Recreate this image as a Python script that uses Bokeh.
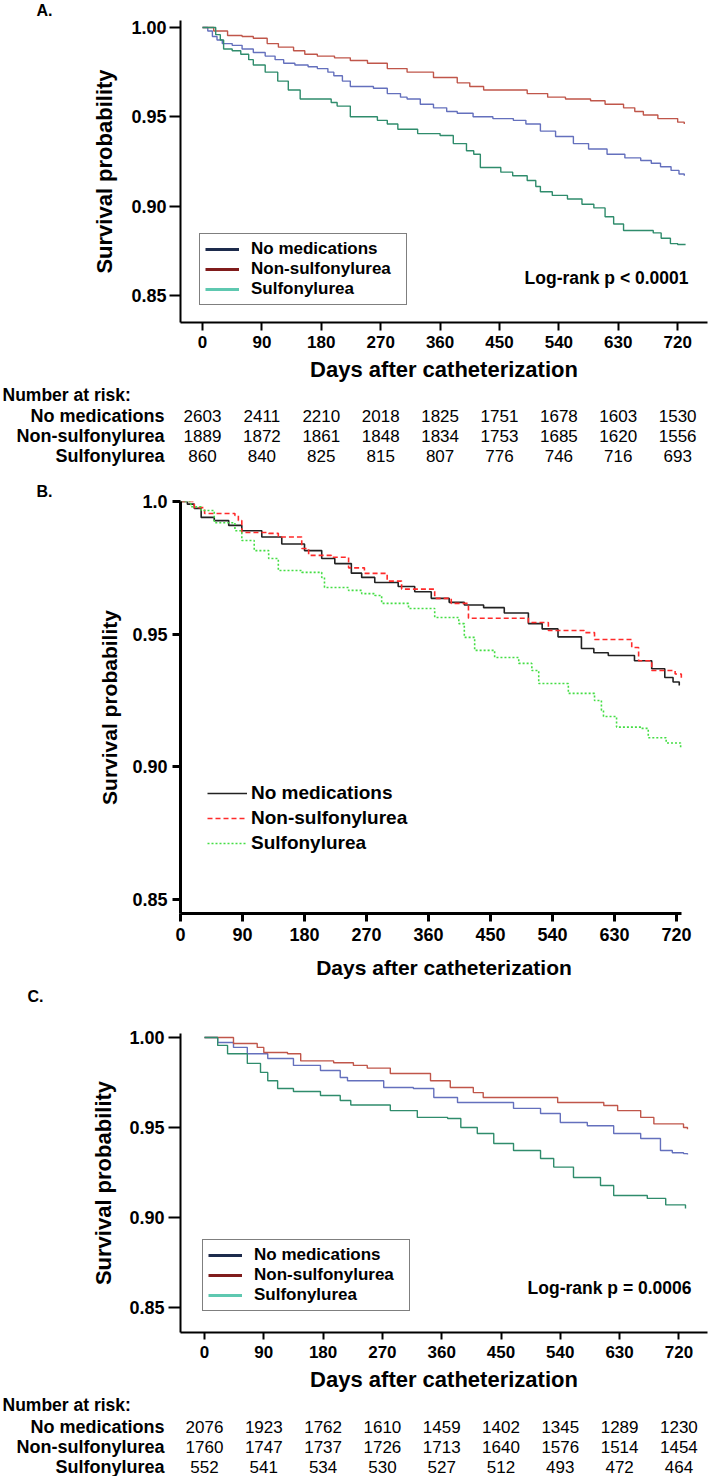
from bokeh.plotting import figure
from bokeh.layouts import column
from bokeh.models import Range1d, FactorRange, FixedTicker, Label, Legend, LegendItem, Title
from bokeh.core.properties import value
from bokeh.embed import file_html
from bokeh.resources import INLINE

FONT = "Liberation Sans"
TICK_DAYS = [0, 90, 180, 270, 360, 450, 540, 630, 720]
GROUPS = ["No medications", "Non-sulfonylurea", "Sulfonylurea"]

# ---------------- Panel A ----------------
a_nomed_days = [0, 8, 15, 22, 30, 45, 60, 77, 95, 110, 123, 140, 160, 174, 190, 199, 212, 224, 240, 259, 280, 300, 310,
                330, 350, 370, 386, 410, 440, 471, 490, 512, 535, 562, 585, 613, 640, 664, 680, 694, 710, 722, 730]
a_nomed_surv = [1.000, 0.998, 0.995, 0.993, 0.991, 0.990, 0.988, 0.986, 0.984, 0.982, 0.980, 0.979, 0.978, 0.977,
                0.975, 0.973, 0.970, 0.967, 0.967, 0.966, 0.963, 0.961, 0.960, 0.957, 0.955, 0.953, 0.952, 0.950,
                0.949, 0.948, 0.946, 0.942, 0.939, 0.935, 0.932, 0.929, 0.927, 0.9255, 0.924, 0.922, 0.920, 0.918, 0.917]
a_nonsulf_days = [0, 17, 38, 60, 77, 98, 115, 138, 155, 174, 200, 224, 250, 280, 310, 350, 386, 405, 426, 460, 492,
                  523, 550, 588, 610, 638, 655, 668, 690, 705, 720, 730]
a_nonsulf_surv = [1.000, 0.998, 0.9955, 0.995, 0.994, 0.991, 0.989, 0.987, 0.985, 0.984, 0.983, 0.9815, 0.980, 0.977,
                  0.975, 0.972, 0.969, 0.967, 0.965, 0.965, 0.963, 0.961, 0.960, 0.959, 0.957, 0.955, 0.953, 0.951,
                  0.949, 0.949, 0.947, 0.946]
a_sulf_days = [0, 20, 27, 32, 45, 58, 70, 77, 95, 114, 130, 148, 179, 195, 204, 224, 265, 280, 296, 326, 360, 380,
               400, 411, 421, 452, 470, 492, 505, 512, 530, 553, 575, 593, 610, 623, 638, 683, 695, 709, 720, 732]
a_sulf_surv = [1.000, 0.996, 0.993, 0.988, 0.987, 0.985, 0.982, 0.979, 0.975, 0.970, 0.965, 0.960, 0.960, 0.958,
               0.956, 0.950, 0.948, 0.946, 0.943, 0.9406, 0.9395, 0.935, 0.931, 0.929, 0.9216, 0.919, 0.917, 0.9143,
               0.911, 0.908, 0.906, 0.904, 0.901, 0.899, 0.894, 0.890, 0.8863, 0.885, 0.882, 0.879, 0.8785, 0.8785]
a_risk_nomed = [2603, 2411, 2210, 2018, 1825, 1751, 1678, 1603, 1530]
a_risk_nonsulf = [1889, 1872, 1861, 1848, 1834, 1753, 1685, 1620, 1556]
a_risk_sulf = [860, 840, 825, 815, 807, 776, 746, 716, 693]

# ---------------- Panel B ----------------
b_nomed_days = [0, 10, 20, 30, 49, 70, 89, 118, 147, 180, 205, 224, 248, 263, 282, 316, 340, 364, 390, 412, 440, 470,
                505, 525, 548, 582, 600, 621, 659, 684, 703, 715, 724]
b_nomed_surv = [1.000, 0.999, 0.9974, 0.994, 0.9928, 0.991, 0.989, 0.9866, 0.984, 0.9815, 0.9785, 0.9766, 0.973,
                0.9714, 0.9695, 0.968, 0.966, 0.9635, 0.962, 0.961, 0.960, 0.958, 0.954, 0.952, 0.949, 0.9446, 0.943,
                0.942, 0.940, 0.937, 0.9337, 0.932, 0.9307]
b_nonsulf_days = [0, 20, 35, 79, 84, 89, 128, 142, 176, 186, 219, 244, 267, 300, 321, 369, 393, 418, 476, 505, 534,
                  586, 601, 655, 665, 684, 718, 727]
b_nonsulf_surv = [1.000, 0.9977, 0.9955, 0.9947, 0.9928, 0.9883, 0.988, 0.9866, 0.9823, 0.9797, 0.979, 0.975, 0.9729,
                  0.970, 0.967, 0.9635, 0.9616, 0.956, 0.956, 0.9544, 0.9514, 0.9506, 0.948, 0.945, 0.940, 0.9363,
                  0.935, 0.9325]
b_sulf_days = [0, 15, 30, 49, 79, 89, 107, 128, 142, 176, 205, 209, 244, 263, 282, 292, 331, 369, 404, 412, 427, 456,
               491, 510, 520, 563, 601, 611, 614, 633, 669, 679, 705, 726]
b_sulf_surv = [1.000, 0.998, 0.9966, 0.992, 0.989, 0.9853, 0.9815, 0.9785, 0.974, 0.9733, 0.9714, 0.9676, 0.9665,
               0.9653, 0.9646, 0.9616, 0.9597, 0.9563, 0.954, 0.9488, 0.9439, 0.9412, 0.939, 0.9363, 0.9314, 0.9277,
               0.925, 0.9213, 0.919, 0.915, 0.9145, 0.911, 0.909, 0.9073]

# ---------------- Panel C ----------------
c_nomed_days = [0, 20, 44, 65, 96, 135, 176, 206, 217, 237, 272, 317, 348, 384, 444, 469, 510, 540, 581, 621, 662,
                692, 710, 727, 733]
c_nomed_surv = [1.000, 0.9972, 0.9945, 0.991, 0.9883, 0.9845, 0.9817, 0.9778, 0.976, 0.976, 0.9722, 0.9717, 0.9667,
                0.9639, 0.9639, 0.9606, 0.9578, 0.9528, 0.951, 0.9467, 0.9439, 0.9372, 0.936, 0.9355, 0.935]
c_nonsulf_days = [0, 44, 80, 90, 126, 146, 196, 226, 247, 282, 343, 373, 408, 423, 490, 536, 606, 627, 662, 682, 727,
                  733]
c_nonsulf_surv = [1.000, 0.9967, 0.9945, 0.9917, 0.991, 0.987, 0.986, 0.9845, 0.983, 0.980, 0.976, 0.9722, 0.9694,
                  0.9667, 0.9667, 0.9639, 0.9622, 0.9594, 0.9556, 0.952, 0.950, 0.949]
c_sulf_days = [0, 20, 35, 65, 85, 96, 111, 135, 176, 206, 222, 282, 323, 369, 389, 414, 439, 469, 510, 530, 560, 601,
               621, 672, 700, 730]
c_sulf_surv = [1.000, 0.9956, 0.991, 0.9856, 0.9806, 0.976, 0.9717, 0.970, 0.9678, 0.965, 0.9625, 0.9594, 0.9556,
               0.955, 0.950, 0.9467, 0.9411, 0.9372, 0.9328, 0.928, 0.9222, 0.9178, 0.9122, 0.9106, 0.907, 0.905]
c_risk_nomed = [2076, 1923, 1762, 1610, 1459, 1402, 1345, 1289, 1230]
c_risk_nonsulf = [1760, 1747, 1737, 1726, 1713, 1640, 1576, 1514, 1454]
c_risk_sulf = [552, 541, 534, 530, 527, 512, 493, 472, 464]

Y_TICKS = [0.85, 0.90, 0.95, 1.00]
A_OV = {0.85: "0.85", 0.90: "0.90", 0.95: "0.95", 1.00: "1.00"}
B_OV = {0.85: "0.85", 0.90: "0.90", 0.95: "0.95", 1.00: "1.0"}

CURVE_COLORS = ["#6470bd", "#c0564a", "#2f8c6c"]
LEGEND_COLORS = ["#1d2b4c", "#801c1c", "#5ec8b0"]
B_COLORS = ["#222222", "#ff2a2a", "#44dd44"]
B_DASHES = ["solid", "5 3", "2 2"]

W = 708
LEFT = 180
RIGHT = 1


def base_fig(h, xr, yr, top, bottom, **kw):
    p = figure(width=W, height=h, x_range=xr, y_range=yr,
               output_backend="svg", toolbar_location=None,
               min_border_left=LEFT, min_border_right=RIGHT,
               min_border_top=top, min_border_bottom=bottom, **kw)
    p.grid.visible = False
    p.outline_line_color = None
    p.background_fill_color = "white"
    p.border_fill_color = "white"
    return p


def style_axes(p, line_w, ytick_fs, xtick_fs, title_fs, x_tick_out, x_lab_stand, x_title_stand,
               y_tick_out, y_lab_stand, y_title_stand, y_overrides):
    for ax in (p.xaxis, p.yaxis):
        ax.axis_line_width = line_w
        ax.axis_line_color = "black"
        ax.major_tick_line_width = line_w
        ax.major_tick_line_color = "black"
        ax.major_tick_in = 0
        ax.minor_tick_line_color = None
        ax.major_label_text_font = FONT
        ax.major_label_text_font_style = "bold"
        ax.major_label_text_color = "black"
        ax.axis_label_text_font = FONT
        ax.axis_label_text_font_size = title_fs
        ax.axis_label_text_font_style = "bold"
        ax.axis_label_text_color = "black"
    p.xaxis.major_label_text_font_size = xtick_fs
    p.yaxis.major_label_text_font_size = ytick_fs
    p.xaxis.ticker = FixedTicker(ticks=TICK_DAYS)
    p.xaxis.major_tick_out = x_tick_out
    p.xaxis.major_label_standoff = x_lab_stand
    p.xaxis.axis_label = "Days after catheterization"
    p.xaxis.axis_label_standoff = x_title_stand
    p.yaxis.ticker = FixedTicker(ticks=Y_TICKS)
    p.yaxis.major_tick_out = y_tick_out
    p.yaxis.major_label_standoff = y_lab_stand
    p.yaxis.major_label_overrides = y_overrides
    p.yaxis.axis_label = "Survival probability"
    p.yaxis.axis_label_standoff = y_title_stand


def screen_text(p, text, x, y, align="left", size="17.5px"):
    p.add_layout(Label(x=x, y=y, x_units="screen", y_units="screen", text=text,
                       text_align=align, text_baseline="middle", text_font=FONT,
                       text_font_size=size, text_font_style="bold", text_color="black"))


def panel_title(p, text, offset, standoff, size="16px"):
    p.add_layout(Title(text=text, align="left", vertical_align="top", offset=offset, standoff=standoff,
                       text_font=FONT, text_font_size=size, text_font_style="bold",
                       text_color="black"), "above")


def boxed_legend(p, days_list, surv_list, vx, vy):
    items = []
    for name, col, d, s in zip(GROUPS, LEGEND_COLORS, days_list, surv_list):
        r = p.line(x=d, y=s, line_color=col, line_width=3, visible=False)
        items.append(LegendItem(label=name, renderers=[r]))
    lg = Legend(items=items, location=(vx, vy), border_line_color="black", border_line_width=1.5,
                background_fill_color="white", background_fill_alpha=1.0,
                label_text_font=FONT, label_text_font_size="17px", label_text_font_style="bold",
                label_text_color="black", glyph_width=34, glyph_height=16, label_height=16,
                label_width=150, spacing=0, padding=5, label_standoff=12, margin=0)
    p.add_layout(lg)


def risk_fig(h, xr, top, bottom, rows):
    rf = base_fig(h, xr, FactorRange(factors=list(reversed(GROUPS))), top, bottom,
                  x_axis_location=None)
    ax = rf.yaxis
    ax.axis_line_color = None
    ax.major_tick_line_color = None
    ax.minor_tick_line_color = None
    ax.major_tick_out = 0
    ax.major_tick_in = 0
    ax.major_label_standoff = 16
    ax.major_label_text_font = FONT
    ax.major_label_text_font_size = "18px"
    ax.major_label_text_font_style = "bold"
    ax.major_label_text_color = "black"
    xs, ys, ts = [], [], []
    for name, vals in zip(GROUPS, rows):
        for d, n in zip(TICK_DAYS, vals):
            xs.append(d)
            ys.append(name)
            ts.append(str(n))
    rf.text(x=xs, y=ys, text=ts, text_align="center", text_baseline="middle",
            text_font=value(FONT), text_font_size=value("17px"), text_color="black")
    rf.add_layout(Title(text="Number at risk:", align="left", vertical_align="top", offset=2 - LEFT,
                        standoff=0, text_font=FONT, text_font_size="17.5px", text_font_style="bold",
                        text_color="black"), "above")
    return rf


# ---------- Panel A ----------
pa = base_fig(384, Range1d(-33.33, 765.2), Range1d(0.83483, 1.00392), 20, 62)
style_axes(pa, 2, "18px", "17px", "22px", 8, 5, 6, 11, 3, 11, A_OV)
for d, s, c in zip([a_nomed_days, a_nonsulf_days, a_sulf_days],
                   [a_nomed_surv, a_nonsulf_surv, a_sulf_surv], CURVE_COLORS):
    pa.step(x=d, y=s, mode="after", line_color=c, line_width=1.4)
boxed_legend(pa, [a_nomed_days, a_nonsulf_days, a_sulf_days], [a_nomed_surv, a_nonsulf_surv, a_sulf_surv], 19, 17)
screen_text(pa, "Log-rank p < 0.0001", 508, 45, align="right")
panel_title(pa, "A.", 36 - LEFT, 0)

pa_risk = risk_fig(90, pa.x_range, 21, 9, [a_risk_nomed, a_risk_nonsulf, a_risk_sulf])

# ---------- Panel B ----------
pb = base_fig(510, Range1d(0, 765.0), Range1d(0.84476, 1.0), 27, 71)
style_axes(pb, 3, "18px", "18px", "21px", 8, 6, 12, 8, 5, 8, B_OV)
pb.xaxis.bounds = (0, 727)
b_items = []
for d, s, c, dash, name in zip([b_nomed_days, b_nonsulf_days, b_sulf_days],
                               [b_nomed_surv, b_nonsulf_surv, b_sulf_surv],
                               B_COLORS, B_DASHES, GROUPS):
    r = pb.step(x=d, y=s, mode="after", line_color=c, line_width=1.6, line_dash=dash)
    b_items.append(LegendItem(label=name, renderers=[r]))
pb.add_layout(Legend(items=b_items, location=(27, 59), border_line_color=None, background_fill_alpha=0,
                     label_text_font=FONT, label_text_font_size="19px", label_text_font_style="bold",
                     label_text_color="black", glyph_width=40, glyph_height=18, label_height=18,
                     spacing=3, padding=4, label_standoff=4, margin=0))
panel_title(pb, "B.", 36 - LEFT, 0)

# ---------- Panel C ----------
pc = base_fig(410, Range1d(-36.42, 763.4), Range1d(0.83611, 1.00222), 49, 62)
style_axes(pc, 2, "18px", "17px", "22px", 7, 6, 6, 12, 4, 10, A_OV)
for d, s, c in zip([c_nomed_days, c_nonsulf_days, c_sulf_days],
                   [c_nomed_surv, c_nonsulf_surv, c_sulf_surv], CURVE_COLORS):
    pc.step(x=d, y=s, mode="after", line_color=c, line_width=1.4)
boxed_legend(pc, [c_nomed_days, c_nonsulf_days, c_sulf_days], [c_nomed_surv, c_nonsulf_surv, c_sulf_surv], 22, 21)
screen_text(pc, "Log-rank p = 0.0006", 511, 45, align="right")
# empty spacer title keeps the "C." heading clear of the frame
pc.add_layout(Title(text=" ", text_font_size="1px", standoff=24), "above")
panel_title(pc, "C.", 27 - LEFT, 0)

pc_risk = risk_fig(82, pc.x_range, 21, 0, [c_risk_nomed, c_risk_nonsulf, c_risk_sulf])

layout = column(pa, pa_risk, pb, pc, pc_risk, spacing=0)
open("out.html", "w").write(file_html(layout, INLINE))
